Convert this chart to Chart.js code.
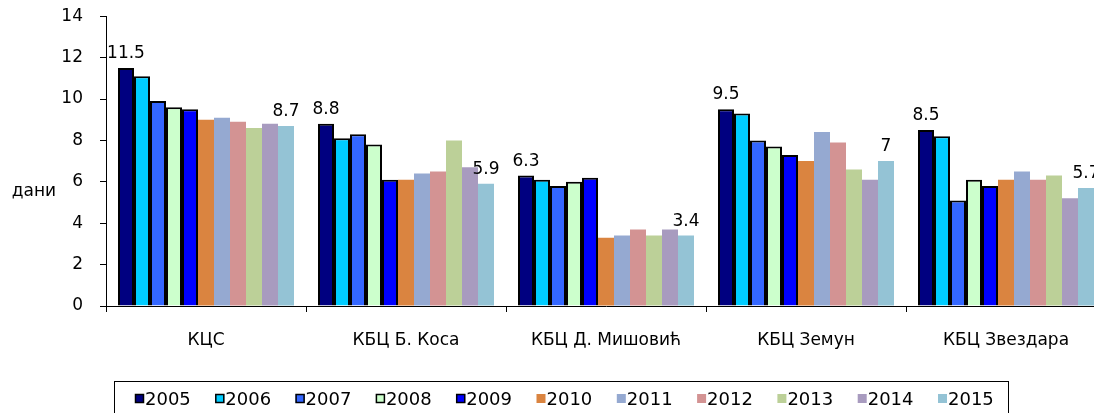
<!DOCTYPE html>
<html>
<head>
<meta charset="utf-8">
<script src="https://cdn.jsdelivr.net/npm/chart.js@4"></script>
<style>
  html, body { margin: 0; padding: 0; background: #fff; overflow: hidden; }
  #wrap { width: 1094px; height: 413px; overflow: hidden; position: relative; }
  canvas { display: block; margin-top: -11px; }
</style>
</head>
<body>
<div id="wrap"><canvas id="c" width="1130" height="424"></canvas></div>
<script>
// ---- data ----
const categories = ['КЦС', 'КБЦ Б. Коса', 'КБЦ Д. Мишовић', 'КБЦ Земун', 'КБЦ Звездара'];
const years = ['2005', '2006', '2007', '2008', '2009', '2010', '2011', '2012', '2013', '2014', '2015'];
const v2005 = [11.5, 8.8, 6.3, 9.5, 8.5];
const v2006 = [11.1, 8.1, 6.1, 9.3, 8.2];
const v2007 = [9.9, 8.3, 5.8, 8.0, 5.1];
const v2008 = [9.6, 7.8, 6.0, 7.7, 6.1];
const v2009 = [9.5, 6.1, 6.2, 7.3, 5.8];
const v2010 = [9.0, 6.1, 3.3, 7.0, 6.1];
const v2011 = [9.1, 6.4, 3.4, 8.4, 6.5];
const v2012 = [8.9, 6.5, 3.7, 7.9, 6.1];
const v2013 = [8.6, 8.0, 3.4, 6.6, 6.3];
const v2014 = [8.8, 6.7, 3.7, 6.1, 5.2];
const v2015 = [8.7, 5.9, 3.4, 7.0, 5.7];
const yAxisTitle = 'дани';
const labelledYears = ['2005', '2015'];

// ---- styles ----
const seriesValues = [v2005, v2006, v2007, v2008, v2009, v2010, v2011, v2012, v2013, v2014, v2015];
const colors = ['#000080', '#00CCFF', '#3366FF', '#CCFFCC', '#0000FF',
                '#DA8440', '#95A9D1', '#D39393', '#BCD098', '#A89BBF', '#94C3D5'];
const bordered = [true, true, true, true, true, false, false, false, false, false, false];
const FONT = '"DejaVu Sans", sans-serif';
const OFF = 11; // canvas is shifted up by this many pixels

const datasets = years.map((y, i) => ({
  label: y,
  data: seriesValues[i],
  backgroundColor: colors[i],
  borderColor: '#000',
  borderWidth: bordered[i] ? 2 : 0,
  borderSkipped: 'start',
  categoryPercentage: 0.88,
  barPercentage: 1.0
}));

const extras = {
  id: 'extras',
  afterDatasetsDraw(chart) {
    const ctx = chart.ctx;
    ctx.save();
    ctx.font = '17px ' + FONT;
    ctx.fillStyle = '#000';
    ctx.textAlign = 'center';
    ctx.textBaseline = 'alphabetic';
    chart.data.datasets.forEach((ds, di) => {
      if (!labelledYears.includes(ds.label)) return;
      const meta = chart.getDatasetMeta(di);
      meta.data.forEach((bar, j) => {
        ctx.fillText(String(ds.data[j]), bar.x, bar.y - 10);
      });
    });
    ctx.restore();
  },
  afterDraw(chart) {
    const ctx = chart.ctx;
    ctx.save();
    // y axis title (horizontal)
    ctx.font = '17px ' + FONT;
    ctx.fillStyle = '#000';
    ctx.textAlign = 'center';
    ctx.textBaseline = 'middle';
    ctx.fillText(yAxisTitle, 34, 192 + OFF);
    // legend
    ctx.strokeStyle = '#000';
    ctx.lineWidth = 1;
    ctx.strokeRect(114.5, 381.5 + OFF, 894, 40);
    ctx.font = '18px ' + FONT;
    ctx.textAlign = 'left';
    ctx.textBaseline = 'alphabetic';
    years.forEach((y, i) => {
      const x = 135 + i * 80.3;
      ctx.fillStyle = colors[i];
      ctx.fillRect(x, 394 + OFF, 9, 9);
      if (bordered[i]) {
        ctx.strokeStyle = '#000';
        ctx.lineWidth = 1.5;
        ctx.strokeRect(x + 0.5, 394.5 + OFF, 8, 8);
      }
      ctx.fillStyle = '#000';
      ctx.fillText(y, x + 10, 405 + OFF);
    });
    ctx.restore();
  }
};

new Chart(document.getElementById('c'), {
  type: 'bar',
  data: { labels: categories, datasets },
  options: {
    responsive: false,
    animation: false,
    devicePixelRatio: 1,
    layout: { autoPadding: false, padding: { top: 5, right: 24, bottom: 0, left: 0 } },
    plugins: { legend: { display: false }, tooltip: { enabled: false } },
    scales: {
      x: {
        grid: { display: true, drawOnChartArea: false, offset: true, tickLength: 6, color: '#000' },
        border: { color: '#000', width: 1 },
        ticks: { font: { family: FONT, size: 17 }, color: '#000', padding: 18, maxRotation: 0, autoSkip: false },
        afterFit(s) { s.height = 107; }
      },
      y: {
        min: 0, max: 14,
        grid: { display: true, drawOnChartArea: false, tickLength: 6, color: '#000' },
        border: { color: '#000', width: 1 },
        ticks: { stepSize: 2, font: { family: FONT, size: 17 }, color: '#000', padding: 17 },
        afterFit(s) { s.width = 106; }
      }
    }
  },
  plugins: [extras]
});
</script>
</body>
</html>
